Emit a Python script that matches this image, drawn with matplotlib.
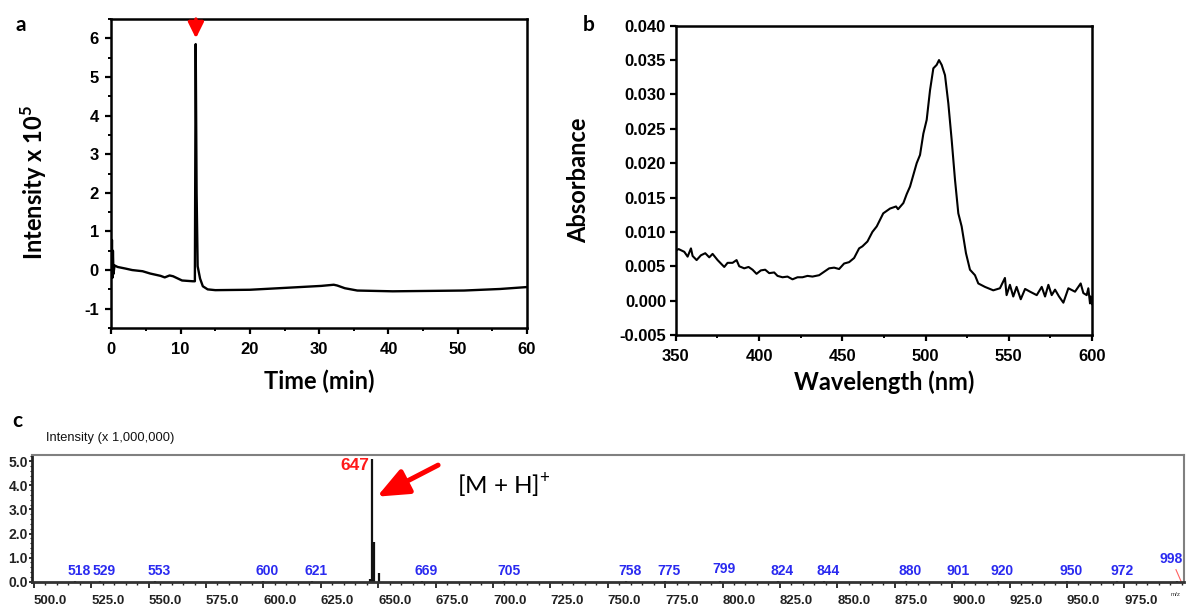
import matplotlib
matplotlib.use("Agg")
import matplotlib.pyplot as plt
from matplotlib.ticker import MultipleLocator, FormatStrFormatter, FixedLocator

plt.rcParams['font.family'] = ['Liberation Sans', 'DejaVu Sans']
plt.rcParams['mathtext.fontset'] = 'custom'
plt.rcParams['mathtext.rm'] = 'Lato'
plt.rcParams['mathtext.bf'] = 'Lato:bold'
plt.rcParams['axes.unicode_minus'] = False

# ---------------- data ----------------
# (a) chromatogram
time_min = [0, 0.08, 0.15, 0.22, 0.3, 0.45, 0.9, 2, 3, 4, 4.5, 5.6, 7.1, 7.7, 8.4, 8.9,
            10.2, 11.75, 12.05, 12.17, 12.3, 12.45, 12.8, 13.2, 13.9, 15.0, 20, 25.2,
            30.3, 32.1, 32.6, 33.7, 35.5, 40.6, 45.8, 50.9, 56.1, 60]
intensity_e5 = [-0.2, 0.78, -0.2, 0.5, -0.1, 0.12, 0.08, 0.04, 0.0, -0.02, -0.03, -0.09,
                -0.15, -0.19, -0.14, -0.16, -0.27, -0.29, -0.29, 5.85, 2.0, 0.1, -0.22,
                -0.42, -0.5, -0.52, -0.51, -0.46, -0.41, -0.38, -0.40, -0.47, -0.53,
                -0.55, -0.54, -0.53, -0.49, -0.44]
peak_time = 12.2

# (b) absorbance spectrum
wavelength = [350.1, 351.7, 355.1, 357.1, 359.1, 360.1, 362.5, 365.1, 367.7, 370.1, 372.1,
              375.1, 379.1, 381.1, 384.1, 386.5, 388.1, 391.1, 393.7, 396.1, 398.5, 401.1,
              403.7, 406.1, 409.1, 411.1, 414.1, 417.1, 420.1, 423.1, 426.1, 429.1, 432.1,
              436.1, 439.1, 442.1, 445.1, 448.1, 451.1, 454.1, 457.1, 460.1, 462.1, 465.1,
              468.1, 470.7, 474.6, 478.7, 482.3, 483.5, 486.7, 488.7, 490.7, 494.7, 496.7,
              498.7, 500.7, 502.7, 504.7, 506.7, 508.1, 509.7, 511.7, 513.7, 515.7, 517.7,
              519.7, 521.7, 524.3, 526.7, 529.7, 531.7, 535.7, 540.7, 544.7, 547.7, 548.7,
              550.7, 552.7, 554.7, 557.2, 559.8, 562.8, 566.8, 569.8, 571.8, 573.8, 575.8,
              577.8, 580.2, 582.8, 585.8, 589.8, 593.2, 594.8, 596.8, 597.8, 598.8, 599.2,
              600.0]
absorbance = [0.0073, 0.0075, 0.0071, 0.0064, 0.0076, 0.0065, 0.0059, 0.0066, 0.0069, 0.0063,
              0.0068, 0.0059, 0.0049, 0.0055, 0.0055, 0.0059, 0.0050, 0.0047, 0.0049, 0.0045,
              0.0039, 0.0044, 0.0045, 0.0040, 0.0041, 0.0036, 0.0034, 0.0035, 0.0031, 0.0034,
              0.0034, 0.0036, 0.0035, 0.0037, 0.0042, 0.0047, 0.0048, 0.0046, 0.0054, 0.0056,
              0.0062, 0.0076, 0.0079, 0.0086, 0.0100, 0.0108, 0.0127, 0.0134, 0.0137, 0.0133,
              0.0142, 0.0155, 0.0166, 0.0200, 0.0212, 0.0243, 0.0263, 0.0306, 0.0338, 0.0343,
              0.0350, 0.0343, 0.0328, 0.0287, 0.0234, 0.0176, 0.0127, 0.0108, 0.0069, 0.0045,
              0.0037, 0.0025, 0.0020, 0.0015, 0.0018, 0.0033, 0.0008, 0.0023, 0.0006, 0.0020,
              0.0002, 0.0017, 0.0013, 0.0008, 0.0020, 0.0006, 0.0023, 0.0008, 0.0016, 0.0006,
              -0.0003, 0.0018, 0.0013, 0.0025, 0.0011, 0.0008, 0.0018, -0.0004, 0.0006,
              -0.0005]

# (c) mass spectrum (intensity x 1,000,000)
ms_mz = [518, 529, 553, 600, 621, 646.3, 647.3, 648.3, 650.2, 669, 705, 758, 775, 799,
         824, 844, 880, 901, 920, 950, 972, 998]
ms_int = [0.02, 0.02, 0.02, 0.02, 0.02, 0.12, 5.1, 1.65, 0.35, 0.04, 0.02, 0.02, 0.02, 0.02,
          0.02, 0.02, 0.02, 0.02, 0.02, 0.02, 0.02, 0.02]
label_mz = [518, 529, 553, 600, 621, 669, 705, 758, 775, 799, 824, 844, 880, 901, 920,
            950, 972, 998]
mz_ticks = [500, 525, 550, 575, 600, 625, 650, 675, 700, 725, 750, 775, 800, 825, 850,
            875, 900, 925, 950, 975]
main_mz = 647.3
main_label = "647"

# ---------------- figure ----------------
W, H = 1186, 610
fig = plt.figure(figsize=(W / 100, H / 100), dpi=100)

def fr(l, t, r, b):
    return [l / W, 1 - b / H, (r - l) / W, (b - t) / H]

label_font = dict(family=['Lato', 'DejaVu Sans'], weight='bold', size=17)
tick_kw = dict(labelsize=12, width=1.6, direction='out')

# ---- panel a ----
axa = fig.add_axes(fr(111.4, 19, 527, 328))
axa.plot(time_min, intensity_e5, color='black', lw=1.7, solid_joinstyle='round')
axa.set_xlim(0, 60)
axa.set_ylim(-1.5, 6.5)
axa.xaxis.set_major_locator(MultipleLocator(10))
axa.xaxis.set_minor_locator(MultipleLocator(5))
axa.yaxis.set_major_locator(MultipleLocator(1))
axa.yaxis.set_minor_locator(MultipleLocator(0.5))
axa.tick_params(which='major', length=4, **tick_kw)
axa.tick_params(which='minor', length=2.5, width=1.4, direction='out')
axa.tick_params(axis='x', which='major', pad=6)
axa.tick_params(axis='y', which='major', pad=5)
for lab in axa.get_xticklabels() + axa.get_yticklabels():
    lab.set_fontweight('bold')
for s in axa.spines.values():
    s.set_linewidth(1.8)
axa.set_xlabel("Time (min)", **label_font)
axa.set_ylabel(r"Intensity x 10$^{\mathbf{5}}$", **label_font)
axa.xaxis.set_label_coords(0.5, -0.135)
axa.yaxis.set_label_coords(-0.15, 0.47)
axa.annotate('', xy=(peak_time, 6.0), xytext=(peak_time, 6.5),
             arrowprops=dict(arrowstyle='-|>,head_length=0.95,head_width=0.47',
                             mutation_scale=10, lw=2.4, color='#ff0000',
                             shrinkA=0, shrinkB=0),
             annotation_clip=False)
fig.text(15 / W, 1 - 25 / H, "a", fontsize=15, fontweight='bold',
         family=['Lato', 'DejaVu Sans'], va='center', ha='left')

# ---- panel b ----
axb = fig.add_axes(fr(675.8, 25.7, 1092, 335))
axb.plot(wavelength, absorbance, color='black', lw=1.5, solid_joinstyle='round')
axb.set_xlim(350, 600)
axb.set_ylim(-0.005, 0.040)
axb.xaxis.set_major_locator(MultipleLocator(50))
axb.xaxis.set_minor_locator(MultipleLocator(25))
axb.yaxis.set_major_locator(MultipleLocator(0.005))
axb.yaxis.set_major_formatter(FormatStrFormatter('%.3f'))
axb.tick_params(which='major', length=4, **tick_kw)
axb.tick_params(which='minor', length=2.5, width=1.4, direction='out')
axb.tick_params(axis='x', which='major', pad=6)
axb.tick_params(axis='y', which='major', pad=3)
for lab in axb.get_xticklabels() + axb.get_yticklabels():
    lab.set_fontweight('bold')
for s in axb.spines.values():
    s.set_linewidth(1.8)
axb.set_xlabel("Wavelength (nm)", **label_font)
axb.set_ylabel("Absorbance", **label_font)
axb.xaxis.set_label_coords(0.5, -0.115)
axb.yaxis.set_label_coords(-0.205, 0.5)
fig.text(583 / W, 1 - 25 / H, "b", fontsize=15, fontweight='bold',
         family=['Lato', 'DejaVu Sans'], va='center', ha='left')

# ---- panel c ----
axc = fig.add_axes(fr(31.5, 455, 1184, 581.7))
axc.vlines(ms_mz, 0, ms_int, color='#111111', lw=1.6)
axc.set_xlim(499, 1001)
axc.set_ylim(0, 5.26)
axc.xaxis.set_major_locator(FixedLocator(mz_ticks))
axc.xaxis.set_minor_locator(MultipleLocator(5))
axc.yaxis.set_major_locator(MultipleLocator(1))
axc.yaxis.set_minor_locator(MultipleLocator(0.2))
axc.xaxis.set_major_formatter(FormatStrFormatter('%.1f'))
axc.yaxis.set_major_formatter(FormatStrFormatter('%.1f'))
axc.tick_params(axis='x', which='major', length=4.3, width=1.3, direction='out',
                labelsize=9.5, pad=5.5, colors='#222222')
axc.tick_params(axis='x', which='minor', length=2.2, width=1.0, direction='out',
                colors='#222222')
axc.tick_params(axis='y', which='major', length=2.5, width=1.3, direction='out',
                labelsize=10, pad=0, colors='#222222')
axc.tick_params(axis='y', which='minor', length=1.5, width=0.8, direction='out',
                colors='#222222')
for lab in axc.get_xticklabels():
    lab.set_fontweight('bold')
    lab.set_horizontalalignment('left')
for lab in axc.get_yticklabels():
    lab.set_fontweight('bold')
axc.spines['left'].set_linewidth(2.0)
axc.spines['left'].set_color('#222222')
axc.spines['bottom'].set_linewidth(2.0)
axc.spines['bottom'].set_color('#333333')
axc.spines['top'].set_linewidth(1.5)
axc.spines['top'].set_color('#808080')
axc.spines['right'].set_linewidth(1.5)
axc.spines['right'].set_color('#808080')

for mz in label_mz:
    if mz == 998:
        yl, dx = 0.95, -4
    elif mz == 799:
        yl, dx = 0.52, 3
    else:
        yl, dx = 0.45, 3
    axc.annotate(str(mz), xy=(mz, yl), xytext=(dx, 0), textcoords='offset points',
                 ha='center', va='center', color='#2a2af0', fontsize=10,
                 fontweight='bold', annotation_clip=False)
axc.annotate(main_label, xy=(main_mz, 4.81), xytext=(-2, 0), textcoords='offset points',
             ha='right', va='center', color='#ff1a1a', fontsize=12.5, fontweight='bold')
axc.annotate('', xy=(649.5, 3.53), xytext=(676.1, 4.84),
             arrowprops=dict(arrowstyle='-|>,head_length=0.95,head_width=0.4',
                             mutation_scale=20, lw=3.6, color='#ff0000',
                             shrinkA=0, shrinkB=0))
axc.text(684.4, 4.01, r"[M + H]$^{+}$", ha='left', va='center', fontsize=17.5,
         family=['Lato', 'DejaVu Sans'], color='black')
axc.plot([997.5, 999.8], [0.5, 0.0], color='#ff6060', lw=0.8, clip_on=False)
fig.text(1176 / W, 1 - 594 / H, "m/z", fontsize=4.5, color='#333333',
         ha='center', va='center')
fig.text(46 / W, 1 - 437.7 / H, "Intensity (x 1,000,000)", fontsize=9.3,
         ha='left', va='center', color='#111111')
fig.text(12 / W, 1 - 421 / H, "c", fontsize=15, fontweight='bold',
         family=['Lato', 'DejaVu Sans'], va='center', ha='left')

fig.savefig("out.png", dpi=100)
